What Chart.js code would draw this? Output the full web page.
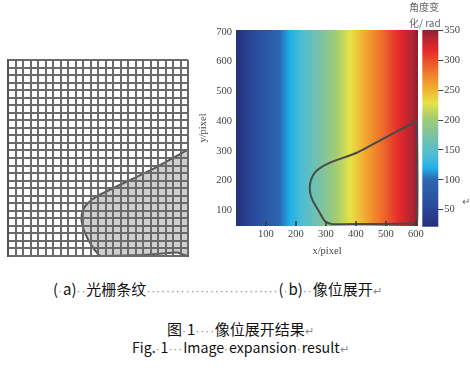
<!DOCTYPE html>
<html lang="zh">
<head>
<meta charset="utf-8">
<script src="https://cdn.jsdelivr.net/npm/chart.js@4.4.1/dist/chart.umd.min.js"></script>
<style>
  html, body { margin: 0; padding: 0; background: #fff; }
  body { width: 470px; height: 386px; position: relative; overflow: hidden; }
  canvas { position: absolute; }
  #grid-chart  { left: 0;     top: 50px; }
  #phase-chart { left: 190px; top: 0; }
  #cbar-chart  { left: 418px; top: 0; }
  .txt { position: absolute; white-space: pre; line-height: 20px;
         font-family: "Noto Sans CJK SC", "Noto Sans", sans-serif; font-size: 15px; color: #111; }
  .d { font-family: "Liberation Sans", sans-serif; font-size: 12px; letter-spacing: 0.9px; color: #8a8a8a; }
  .r { font-size: 11px; color: #8a8a8a; }
  .cb { position: absolute; white-space: pre; font-family: "Noto Sans CJK SC", sans-serif;
        font-size: 10px; line-height: 12px; color: #666; }
</style>
</head>
<body>
<canvas id="grid-chart" width="200" height="215"></canvas>
<canvas id="phase-chart" width="245" height="265"></canvas>
<canvas id="cbar-chart" width="52" height="240"></canvas>

<div class="cb" style="left:409px; top:1px;">角度变</div>
<div class="cb" style="left:409px; top:17px;">化/ rad</div>
<div class="cb r" style="left:462px; top:195px;">↵</div>

<div class="txt" style="left:53px; top:279px;">(<span class="d">·</span>a)<span class="d">··</span>光栅条纹<span class="d">···························</span>(<span class="d">·</span>b)<span class="d">··</span>像位展开<span class="r">↵</span></div>
<div class="txt" style="left:167px; top:319px;">图<span class="d">·</span>1<span class="d">····</span>像位展开结果<span class="r">↵</span></div>
<div class="txt" style="left:132px; top:337px; font-size:14.2px;">Fig.<span class="d">·</span>1<span class="d">···</span>Image<span class="d">·</span>expansion<span class="d">·</span>result<span class="r">↵</span></div>

<script>
"use strict";

/* ── (a) grating fringes: 24 x 26 cell grid, shaded region in cell units ── */
const GRID_COLS = 24;
const GRID_ROWS = 26;
const shadeX = [24, 19.8, 15.8, 12.2, 10.7, 10.0, 9.8, 10.2, 11.1, 12.0, 12.4, 17.0, 21.0, 22.5, 23.3, 24, 24];
const shadeY = [14.1, 11.8, 9.85, 8.1, 7.07, 6.1, 4.8, 3.2, 1.46, 0.27, 0, 0.1, 0.35, 0.45, 0.2, 0, 14.1];

/* ── (b) unwrapped phase map ── */
const xTicks = [100, 200, 300, 400, 500, 600];
const yTicks = [100, 200, 300, 400, 500, 600, 700];
const xRange = [0, 607];
const yRange = [48, 706];
const phaseAtEdges = [22, 351];           // phase at x = 0 and x = 607 (horizontal ramp)
const boundaryX = [604, 504, 403, 314, 275, 256, 247, 247, 256, 275, 292, 302, 318, 350, 492, 582, 604, 604];
const boundaryY = [401, 348, 294, 261, 239, 217, 189, 161, 133, 100, 70, 60, 55, 54, 55, 57, 58, 401];

/* ── colour bar ── */
const cbarTicks = [50, 100, 150, 200, 250, 300, 350];
const cbarRange = [21.5, 351];
const cmapValues = [22, 55, 100, 120, 140, 173, 203, 229, 252, 285, 318, 340, 351];
const cmapColors = ['#26307a', '#2a4a9e', '#2c66b0', '#20b0e8', '#4cbcd6', '#78c2a6',
                    '#a2cc72', '#e6e244', '#f2b032', '#ee6e2a', '#e4282a', '#b02430', '#8a2030'];

const SERIF = { family: 'Liberation Serif', size: 10.5 };
const AXIS_GRAY = '#444';

/* ── Plugins ─────────────────────────────────────────────── */
/** Fill the plot area with the phase ramp, mapped through the x scale. */
const phaseFill = {
  id: 'phaseFill',
  beforeDatasetsDraw(chart) {
    const { ctx, chartArea: a, scales: { x } } = chart;
    const g = ctx.createLinearGradient(x.getPixelForValue(xRange[0]), 0, x.getPixelForValue(xRange[1]), 0);
    const [p0, p1] = phaseAtEdges;
    cmapValues.forEach((v, i) => {
      g.addColorStop(Math.min(1, Math.max(0, (v - p0) / (p1 - p0))), cmapColors[i]);
    });
    ctx.save();
    ctx.fillStyle = g;
    ctx.fillRect(a.left, a.top, a.width, a.height);
    ctx.restore();
  },
};

/** Short tick marks pointing into the plot. */
const innerTicks = {
  id: 'innerTicks',
  afterDatasetsDraw(chart) {
    const { ctx, chartArea: a, scales: { x, y } } = chart;
    ctx.save();
    ctx.strokeStyle = '#3a3a3a';
    ctx.lineWidth = 1.5;
    ctx.beginPath();
    xTicks.forEach(v => {
      const p = Math.round(x.getPixelForValue(v));
      ctx.moveTo(p, a.bottom); ctx.lineTo(p, a.bottom - 5);
    });
    yTicks.forEach(v => {
      const p = Math.round(y.getPixelForValue(v));
      ctx.moveTo(a.left, p); ctx.lineTo(a.left + 4, p);
    });
    ctx.stroke();
    ctx.restore();
  },
};

/** Vertical colour ramp of the colour bar, mapped through its y scale. */
const cbarFill = {
  id: 'cbarFill',
  beforeDatasetsDraw(chart) {
    const { ctx, chartArea: a, scales: { y } } = chart;
    const y0 = y.getPixelForValue(cbarRange[0]);
    const y1 = y.getPixelForValue(cbarRange[1]);
    const g = ctx.createLinearGradient(0, y0, 0, y1);
    cmapValues.forEach((v, i) => {
      g.addColorStop(Math.min(1, Math.max(0, (v - cbarRange[0]) / (cbarRange[1] - cbarRange[0]))), cmapColors[i]);
    });
    ctx.save();
    ctx.fillStyle = g;
    ctx.fillRect(a.left, a.top, a.width, a.height);
    ctx.restore();
  },
};

const noPlugins = { legend: { display: false }, tooltip: { enabled: false } };
const toPoints = (xs, ys) => xs.map((x, i) => ({ x, y: ys[i] }));

/* ── (a) grid chart ──────────────────────────────────────── */
new Chart(document.getElementById('grid-chart'), {
  type: 'scatter',
  data: {
    datasets: [{
      data: toPoints(shadeX, shadeY),
      showLine: true,
      fill: 'shape',
      backgroundColor: '#cfcfcf',
      borderColor: '#555',
      borderWidth: 2,
      pointRadius: 0,
      tension: 0.25,
    }],
  },
  options: {
    responsive: false,
    animation: false,
    layout: { padding: { left: 8, top: 10, right: 12, bottom: 9 } },
    plugins: noPlugins,
    scales: {
      x: {
        min: 0, max: GRID_COLS,
        ticks: { display: false, stepSize: 1, maxTicksLimit: 100 },
        grid: { color: '#6a6a6a', lineWidth: 2, drawTicks: false, z: 1 },
        border: { color: '#555', width: 2, z: 1 },
        afterFit: s => { s.height = 0; s.paddingLeft = 0; s.paddingRight = 0; },
      },
      y: {
        min: 0, max: GRID_ROWS,
        ticks: { display: false, stepSize: 1, maxTicksLimit: 100 },
        grid: { color: '#6a6a6a', lineWidth: 2, drawTicks: false, z: 1 },
        border: { color: '#555', width: 2, z: 1 },
        afterFit: s => { s.width = 0; s.paddingTop = 0; s.paddingBottom = 0; },
      },
    },
  },
});

/* ── (b) phase map ───────────────────────────────────────── */
new Chart(document.getElementById('phase-chart'), {
  type: 'scatter',
  data: {
    datasets: [{
      data: toPoints(boundaryX, boundaryY),
      showLine: true,
      fill: false,
      borderColor: '#4a4a4a',
      borderWidth: 2,
      pointRadius: 0,
      tension: 0.2,
      clip: 2,
    }],
  },
  options: {
    responsive: false,
    animation: false,
    layout: { padding: { left: 0, top: 30, right: 17, bottom: 0 } },
    plugins: noPlugins,
    scales: {
      x: {
        type: 'linear',
        min: xRange[0], max: xRange[1],
        afterBuildTicks: s => { s.ticks = xTicks.map(v => ({ value: v })); },
        afterFit: s => { s.height = 39; s.paddingLeft = 0; s.paddingRight = 0; },
        grid: { display: false, drawTicks: false },
        border: { display: false },
        ticks: { padding: 2, color: AXIS_GRAY, font: SERIF, maxRotation: 0 },
        title: { display: true, text: 'x/pixel', color: AXIS_GRAY, font: SERIF, padding: { top: 0, bottom: 7.5 } },
      },
      y: {
        type: 'linear',
        min: yRange[0], max: yRange[1],
        afterBuildTicks: s => { s.ticks = yTicks.map(v => ({ value: v })); },
        afterFit: s => { s.width = 46; s.paddingTop = 0; s.paddingBottom = 0; },
        grid: { display: false, drawTicks: false },
        border: { display: false },
        ticks: { padding: 4, color: AXIS_GRAY, font: SERIF },
        title: { display: true, text: 'y/pixel', color: AXIS_GRAY, font: SERIF, padding: { top: 6.5, bottom: 0 } },
      },
    },
  },
  plugins: [phaseFill, innerTicks],
});

/* ── colour bar ──────────────────────────────────────────── */
new Chart(document.getElementById('cbar-chart'), {
  type: 'scatter',
  data: { datasets: [] },
  options: {
    responsive: false,
    animation: false,
    layout: { padding: { left: 4.3, top: 30, right: 0, bottom: 13.3 } },
    plugins: noPlugins,
    scales: {
      x: { display: false, min: 0, max: 1 },
      y: {
        position: 'right',
        min: cbarRange[0], max: cbarRange[1],
        afterBuildTicks: s => { s.ticks = cbarTicks.map(v => ({ value: v })); },
        afterFit: s => { s.width = 31.7; s.paddingTop = 0; s.paddingBottom = 0; },
        grid: { drawOnChartArea: false, drawTicks: true, tickLength: 5, tickColor: AXIS_GRAY, tickWidth: 1 },
        border: { display: false },
        ticks: { padding: 1, color: AXIS_GRAY, font: SERIF },
      },
    },
  },
  plugins: [cbarFill],
});
</script>
</body>
</html>
